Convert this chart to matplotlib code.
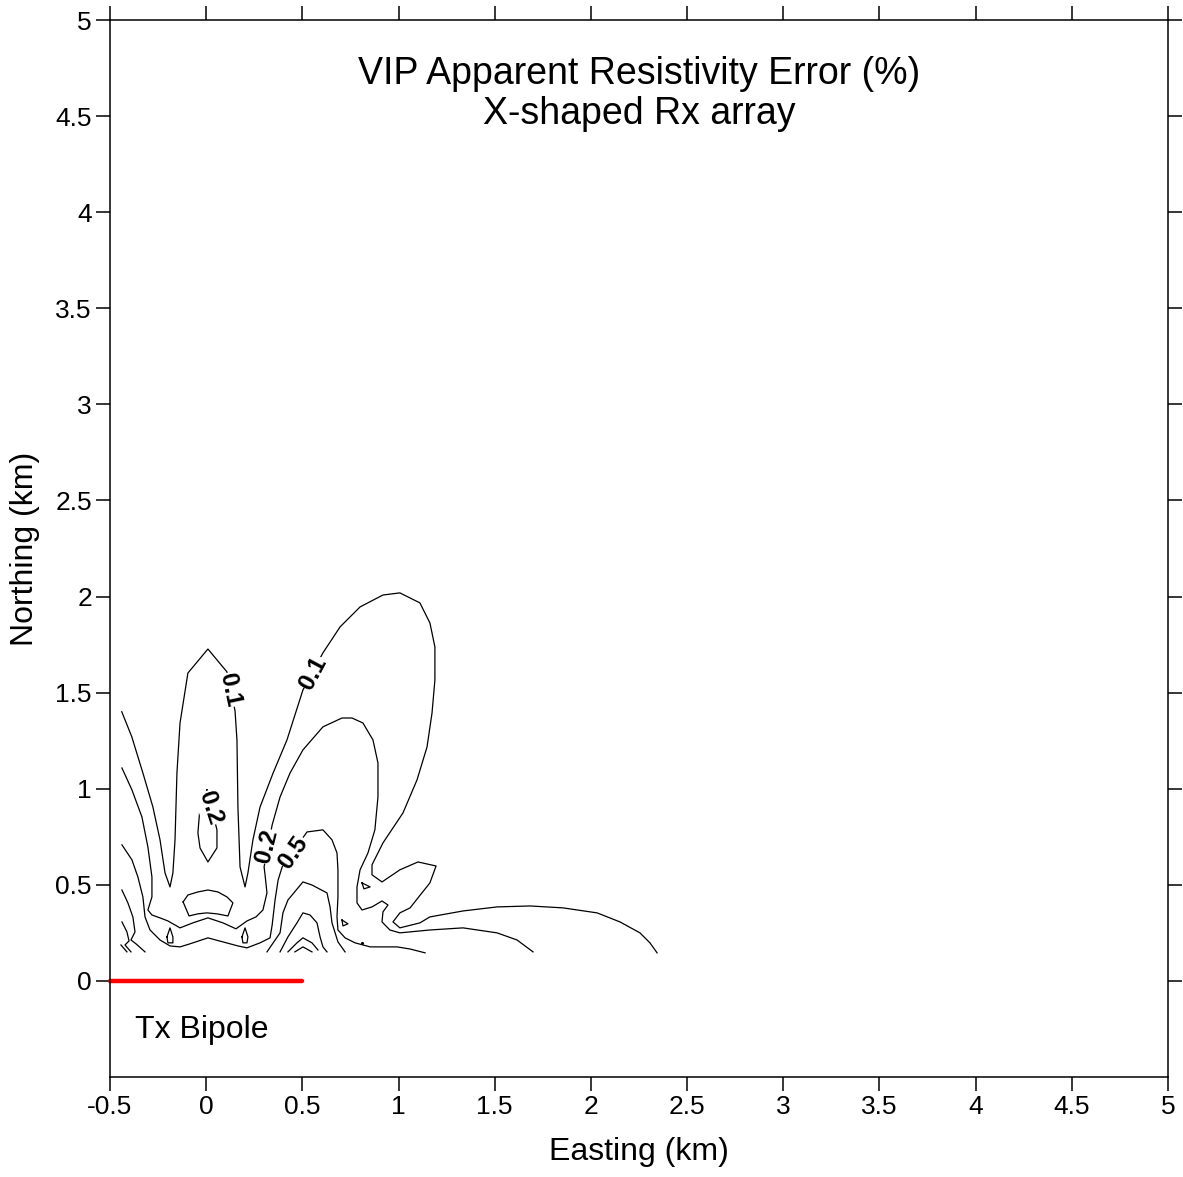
import numpy as np
import matplotlib.pyplot as plt

plt.rcParams['font.family'] = ['Liberation Sans', 'DejaVu Sans']

# contour traces (km)
c01_x = [-0.439, -0.387, -0.329, -0.277, -0.240, -0.214, -0.188, -0.173, -0.162, -0.152, -0.136, -0.095,
         0.009, 0.108, 0.150, 0.160, 0.165, 0.176, 0.202, 0.217, 0.243, 0.280, 0.348, 0.420, 0.503, 0.607,
         0.696, 0.800, 0.919, 1.007, 1.111, 1.163, 1.189, 1.189, 1.174, 1.148, 1.096, 1.023, 0.919, 0.862,
         0.862, 0.914, 1.007, 1.101, 1.195, 1.163, 1.101, 1.060, 1.007, 0.971, 1.007, 1.111, 1.163, 1.335,
         1.512, 1.683, 1.855, 2.032, 2.151, 2.255, 2.307, 2.344]
c01_y = [1.401, 1.271, 1.082, 0.905, 0.734, 0.562, 0.489, 0.562, 0.734, 1.082, 1.342, 1.602,
         1.727, 1.608, 1.405, 1.254, 0.905, 0.593, 0.489, 0.562, 0.734, 0.905, 1.082, 1.254, 1.514, 1.707,
         1.842, 1.946, 2.008, 2.019, 1.967, 1.863, 1.738, 1.566, 1.394, 1.217, 1.046, 0.874, 0.718, 0.604,
         0.552, 0.515, 0.578, 0.619, 0.598, 0.510, 0.432, 0.380, 0.354, 0.307, 0.276, 0.302, 0.333, 0.364,
         0.385, 0.390, 0.380, 0.354, 0.307, 0.250, 0.198, 0.146]

c02_x = [-0.438, -0.386, -0.334, -0.303, -0.282, -0.282, -0.303, -0.282, -0.240, -0.199, -0.136, -0.069,
         0.009, 0.087, 0.155, 0.212, 0.259, 0.295, 0.316, 0.306, 0.301, 0.343, 0.384, 0.436, 0.503, 0.607,
         0.706, 0.758, 0.815, 0.867, 0.893, 0.893, 0.877, 0.841, 0.800, 0.784, 0.784, 0.810, 0.862, 0.914,
         0.945, 0.919, 0.914, 0.955, 1.007, 1.163, 1.335, 1.512, 1.616, 1.699]
c02_y = [1.108, 0.994, 0.853, 0.697, 0.541, 0.437, 0.369, 0.343, 0.328, 0.312, 0.276, 0.302,
         0.328, 0.302, 0.271, 0.312, 0.333, 0.369, 0.458, 0.552, 0.593, 0.812, 0.957, 1.082, 1.202, 1.322,
         1.368, 1.368, 1.342, 1.254, 1.134, 0.957, 0.786, 0.666, 0.578, 0.489, 0.406, 0.369, 0.385, 0.416,
         0.395, 0.359, 0.307, 0.265, 0.250, 0.265, 0.276, 0.250, 0.213, 0.151]

c02_loop_x = [0.004, -0.032, -0.043, -0.032, 0.009, 0.056, 0.056, 0.004]
c02_loop_y = [0.994, 0.905, 0.770, 0.692, 0.619, 0.692, 0.786, 0.994]

c05_x = [-0.438, -0.386, -0.355, -0.329, -0.318, -0.292, -0.240, -0.188, -0.136, -0.084, 0.009, 0.087,
         0.165, 0.212, 0.280, 0.332, 0.343, 0.358, 0.374, 0.395, 0.524, 0.607, 0.654, 0.680, 0.685, 0.685,
         0.680, 0.685, 0.722, 0.774, 0.852, 0.992, 1.060, 1.138]
c05_y = [0.708, 0.630, 0.541, 0.437, 0.333, 0.265, 0.213, 0.182, 0.177, 0.193, 0.224, 0.203,
         0.182, 0.172, 0.198, 0.224, 0.291, 0.421, 0.525, 0.593, 0.775, 0.786, 0.734, 0.666, 0.578, 0.437,
         0.333, 0.265, 0.224, 0.198, 0.177, 0.177, 0.166, 0.146]

cap_x = [-0.120, -0.095, -0.043, 0.009, 0.061, 0.108, 0.139, 0.113, 0.056, 0.004, -0.043, -0.089, -0.120]
cap_y = [0.411, 0.447, 0.463, 0.473, 0.463, 0.437, 0.406, 0.338, 0.349, 0.354, 0.349, 0.338, 0.411]

drop1_x = [-0.204, -0.188, -0.173, -0.173, -0.199, -0.204]
drop2_x = [0.186, 0.202, 0.217, 0.212, 0.191, 0.186]
drop_y = [0.229, 0.276, 0.229, 0.198, 0.198, 0.229]

tri1_x = [0.706, 0.737, 0.711, 0.706]
tri1_y = [0.317, 0.297, 0.286, 0.317]
tri2_x = [0.810, 0.852, 0.820, 0.810]
tri2_y = [0.510, 0.489, 0.479, 0.510]

in1_x = [0.316, 0.384, 0.399, 0.425, 0.503, 0.550, 0.628, 0.644, 0.654, 0.685, 0.722]
in1_y = [0.151, 0.250, 0.354, 0.421, 0.515, 0.499, 0.458, 0.385, 0.302, 0.203, 0.151]
in2_x = [0.384, 0.425, 0.472, 0.503, 0.540, 0.576, 0.592, 0.607, 0.628]
in2_y = [0.151, 0.229, 0.302, 0.354, 0.343, 0.302, 0.229, 0.177, 0.151]
in3_x = [0.425, 0.472, 0.503, 0.550, 0.581]
in3_y = [0.151, 0.198, 0.224, 0.198, 0.161]
in4_x = [0.461, 0.503, 0.550]
in4_y = [0.151, 0.177, 0.151]

edge1_x = [-0.438, -0.407, -0.381, -0.370, -0.391, -0.365, -0.318]
edge1_y = [0.473, 0.406, 0.333, 0.255, 0.213, 0.193, 0.151]
edge2_x = [-0.438, -0.412, -0.401, -0.422, -0.391]
edge2_y = [0.307, 0.255, 0.208, 0.187, 0.151]
edge3_x = [-0.443, -0.412]
edge3_y = [0.187, 0.151]

dot_x, dot_y = 0.810, 0.198

# contour labels: text, x, y, rotation
labels = [("0.1", 0.124, 1.514, -78), ("0.1", 0.557, 1.603, 62),
          ("0.2", 0.020, 0.900, -72), ("0.2", 0.316, 0.700, 76),
          ("0.5", 0.453, 0.671, 55)]

tx_x = [-0.5, 0.5]
tx_y = [0, 0]

ticks_x = np.arange(-0.5, 5.01, 0.5)
ticks_y = np.arange(0, 5.01, 0.5)


def fmt(v):
    return ("%g" % v)


fig = plt.figure(figsize=(11.83, 11.77), dpi=100)
ax = fig.add_axes([110 / 1183, 1 - 1077 / 1177, 1058 / 1183, 1057 / 1177])

lines = [(c01_x, c01_y), (c02_x, c02_y), (c02_loop_x, c02_loop_y), (c05_x, c05_y),
         (cap_x, cap_y), (drop1_x, drop_y), (drop2_x, drop_y), (tri1_x, tri1_y), (tri2_x, tri2_y),
         (in1_x, in1_y), (in2_x, in2_y), (in3_x, in3_y), (in4_x, in4_y),
         (edge1_x, edge1_y), (edge2_x, edge2_y), (edge3_x, edge3_y)]
for xs, ys in lines:
    ax.plot(xs, ys, color='black', lw=0.9)
ax.plot([dot_x], [dot_y], 'k.', ms=2.5)

for t, x, y, r in labels:
    ax.text(x, y, t, rotation=r, ha='center', va='center', fontsize=17.5, fontweight='bold',
            rotation_mode='anchor',
            bbox=dict(facecolor='white', edgecolor='none', pad=0.3))

ax.plot(tx_x, tx_y, color='red', lw=3.2, solid_capstyle='round', clip_on=False)
ax.text(-0.37, -0.255, "Tx Bipole", fontsize=23, ha='left', va='center')

ax.text(0.5, 0.949, "VIP Apparent Resistivity Error (%)", transform=ax.transAxes,
        ha='center', va='center', fontsize=27)
ax.text(0.5, 0.911, "X-shaped Rx array", transform=ax.transAxes,
        ha='center', va='center', fontsize=27)

ax.set_xlim(-0.5, 5)
ax.set_ylim(-0.5, 5)
ax.set_xticks(ticks_x)
ax.set_xticklabels([fmt(v) for v in ticks_x])
ax.set_yticks(ticks_y)
ax.set_yticklabels([fmt(v) for v in ticks_y])
ax.tick_params(direction='out', length=10, width=1.1, labelsize=19, pad=3,
               top=True, right=True, labeltop=False, labelright=False)
for s in ax.spines.values():
    s.set_linewidth(1.1)

ax.set_xlabel("Easting (km)", fontsize=23, labelpad=13)
ax.set_ylabel("Northing (km)", fontsize=23, labelpad=11)

fig.savefig("out.png", dpi=100)
